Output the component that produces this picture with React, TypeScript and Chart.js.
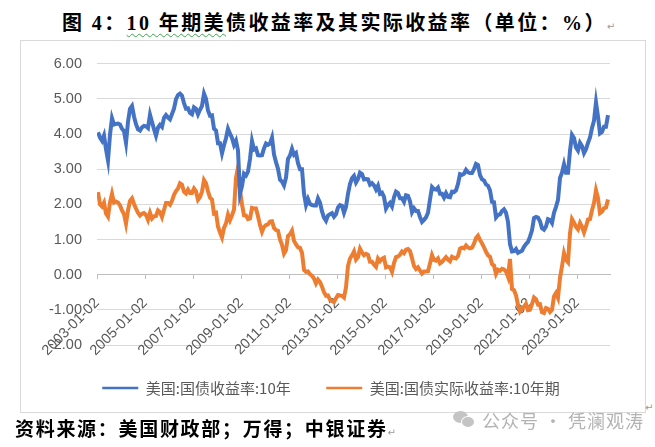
import React, { useEffect, useRef } from 'react';
import { Chart, registerables } from 'chart.js';

Chart.register(...registerables);

// Monthly readings, Jan 2003 .. Apr 2024
const START_YEAR = 2003;

const UST_10Y = [
  4.05, 3.90, 3.81, 3.96, 3.57, 3.25, 3.98, 4.45, 4.27, 4.29, 4.30, 4.27,
  4.15, 4.08, 3.75, 4.35, 4.72, 4.80, 4.50, 4.28, 4.13, 4.10, 4.19, 4.23,
  4.22, 4.17, 4.55, 4.34, 4.14, 3.95, 4.18, 4.26, 4.20, 4.46, 4.54, 4.47,
  4.42, 4.57, 4.72, 4.99, 5.11, 5.15, 5.09, 4.88, 4.72, 4.73, 4.60, 4.56,
  4.76, 4.72, 4.56, 4.69, 4.80, 5.15, 5.00, 4.67, 4.52, 4.53, 4.15, 4.10,
  3.74, 3.74, 3.45, 3.68, 3.88, 4.15, 4.01, 3.89, 3.69, 3.81, 3.53, 2.30,
  2.52, 2.87, 2.82, 2.93, 3.29, 3.80, 3.56, 3.59, 3.40, 3.39, 3.40, 3.59,
  3.73, 3.69, 3.73, 3.90, 3.42, 3.20, 3.01, 2.70, 2.65, 2.54, 2.76, 3.29,
  3.39, 3.58, 3.41, 3.46, 3.17, 3.00, 3.00, 2.30, 1.98, 2.15, 2.01, 1.98,
  1.97, 1.97, 2.17, 2.05, 1.80, 1.62, 1.53, 1.68, 1.72, 1.75, 1.65, 1.72,
  1.91, 1.98, 1.96, 1.76, 1.93, 2.30, 2.58, 2.74, 2.81, 2.62, 2.72, 2.90,
  2.86, 2.71, 2.72, 2.71, 2.56, 2.60, 2.54, 2.42, 2.53, 2.30, 2.33, 2.21,
  1.88, 1.98, 2.04, 1.94, 2.20, 2.36, 2.32, 2.17, 2.17, 2.07, 2.26, 2.24,
  2.09, 1.78, 1.89, 1.81, 1.81, 1.64, 1.50, 1.56, 1.63, 1.76, 2.14, 2.49,
  2.43, 2.42, 2.48, 2.30, 2.30, 2.19, 2.32, 2.21, 2.20, 2.36, 2.35, 2.40,
  2.58, 2.86, 2.84, 2.87, 2.98, 2.91, 2.89, 2.89, 3.00, 3.15, 3.12, 2.83,
  2.71, 2.68, 2.57, 2.53, 2.40, 2.07, 2.06, 1.63, 1.70, 1.71, 1.81, 1.86,
  1.76, 1.50, 0.87, 0.66, 0.67, 0.73, 0.62, 0.65, 0.68, 0.79, 0.87, 0.93,
  1.08, 1.26, 1.61, 1.64, 1.62, 1.52, 1.32, 1.28, 1.37, 1.58, 1.56, 1.47,
  1.76, 1.93, 2.13, 2.75, 2.90, 3.14, 2.90, 2.90, 3.52, 3.98, 3.89, 3.62,
  3.53, 3.75, 3.66, 3.46, 3.57, 3.75, 3.90, 4.17, 4.38, 4.90, 4.50, 4.02,
  4.06, 4.21, 4.21, 4.54,
];

const TIPS_10Y = [
  2.35, 2.00, 1.94, 2.05, 1.74, 1.65, 2.05, 2.30, 2.05, 2.08, 2.05, 1.97,
  1.83, 1.72, 1.45, 1.83, 2.10, 2.17, 2.01, 1.88, 1.76, 1.68, 1.73, 1.75,
  1.70, 1.56, 1.76, 1.60, 1.66, 1.67, 1.83, 1.78, 1.64, 1.84, 2.04, 2.04,
  1.99, 2.10, 2.27, 2.38, 2.45, 2.60, 2.56, 2.36, 2.31, 2.42, 2.32, 2.32,
  2.45, 2.37, 2.13, 2.21, 2.36, 2.69, 2.60, 2.37, 2.19, 2.14, 1.74, 1.76,
  1.37, 1.20, 1.06, 1.33, 1.46, 1.71, 1.55, 1.69, 1.85, 2.75, 3.05, 2.39,
  2.00, 1.69, 1.68, 1.58, 1.60, 1.90, 1.88, 1.88, 1.66, 1.41, 1.22, 1.36,
  1.41, 1.43, 1.51, 1.52, 1.33, 1.27, 1.25, 1.00, 0.85, 0.60, 0.70, 1.10,
  1.15, 1.25, 0.96, 0.86, 0.78, 0.76, 0.62, 0.14, 0.08, 0.09, 0.01, -0.03,
  -0.11, -0.25, -0.14, -0.21, -0.34, -0.50, -0.60, -0.59, -0.71, -0.75, -0.78, -0.67,
  -0.58, -0.59, -0.60, -0.65, -0.36, 0.25, 0.46, 0.55, 0.66, 0.43, 0.50, 0.74,
  0.63, 0.55, 0.59, 0.56, 0.37, 0.37, 0.28, 0.22, 0.46, 0.38, 0.45, 0.48,
  0.21, 0.23, 0.21, 0.08, 0.33, 0.50, 0.52, 0.57, 0.66, 0.61, 0.71, 0.73,
  0.67, 0.47, 0.25, 0.16, 0.21, 0.12, 0.03, 0.09, 0.09, 0.10, 0.32, 0.56,
  0.42, 0.40, 0.46, 0.32, 0.36, 0.43, 0.50, 0.43, 0.38, 0.51, 0.48, 0.46,
  0.53, 0.74, 0.77, 0.75, 0.83, 0.77, 0.75, 0.77, 0.88, 1.04, 1.11, 0.99,
  0.89, 0.78, 0.65, 0.55, 0.51, 0.30, 0.26, 0.02, 0.14, 0.11, 0.17, 0.15,
  0.09, -0.06, 0.45, -0.41, -0.44, -0.59, -0.86, -1.05, -0.97, -0.91, -0.83, -1.01,
  -1.00, -0.84, -0.65, -0.70, -0.85, -0.84, -1.07, -1.09, -0.95, -0.97, -1.06, -1.00,
  -0.62, -0.52, -0.66, -0.09, 0.24, 0.61, 0.42, 0.35, 1.18, 1.58, 1.48, 1.36,
  1.29, 1.47, 1.36, 1.20, 1.37, 1.57, 1.58, 1.83, 2.04, 2.40, 2.18, 1.75,
  1.79, 1.89, 1.91, 2.14,
];

const X_TICK_YEARS = [2003, 2005, 2007, 2009, 2011, 2013, 2015, 2017, 2019, 2021, 2023];
const X_TICK_LABELS = [
  '2003-01-02', '2005-01-02', '2007-01-02', '2009-01-02', '2011-01-02', '2013-01-02',
  '2015-01-02', '2017-01-02', '2019-01-02', '2021-01-02', '2023-01-02',
];
const Y_TICKS = [-2, -1, 0, 1, 2, 3, 4, 5, 6];
const SERIES_NAMES = ['美国:国债收益率:10年', '美国:国债实际收益率:10年期'];
const SERIES_COLORS = ['#4472C4', '#ED7D31'];

const TITLE_PRE = '图 4：';
const TITLE_MARKED = '10 年期美';
const TITLE_POST = '债收益率及其实际收益率（单位：%）';
const SOURCE_TEXT = '资料来源：美国财政部；万得；中银证券';
const WATERMARK_TEXT = '公众号 · 凭澜观涛';

const toPoints = (values: number[]) =>
  values.map((v, i) => ({ x: START_YEAR + (i + 0.5) / 12, y: v }));

const AXIS_FONT = { family: "'Liberation Sans', Arial, sans-serif", size: 14.5 };

export default function App() {
  const canvasRef = useRef<HTMLCanvasElement | null>(null);

  useEffect(() => {
    const canvas = canvasRef.current;
    if (!canvas) return;
    const chart = new Chart(canvas, {
      type: 'line',
      data: {
        datasets: [UST_10Y, TIPS_10Y].map((vals, i) => ({
          label: SERIES_NAMES[i],
          data: toPoints(vals),
          borderColor: SERIES_COLORS[i],
          backgroundColor: SERIES_COLORS[i],
          borderWidth: 4,
          pointRadius: 0,
          tension: 0,
          fill: false,
        })),
      },
      options: {
        animation: false,
        responsive: false,
        maintainAspectRatio: false,
        events: [],
        layout: { padding: { top: 19, right: 35, left: 32, bottom: 6.5 } },
        plugins: {
          tooltip: { enabled: false },
          legend: {
            position: 'bottom',
            labels: {
              boxWidth: 36,
              boxHeight: 2.5,
              padding: 35.5,
              color: '#595959',
              font: { family: "'Noto Sans CJK SC', sans-serif", size: 15 },
              generateLabels: (c: any) =>
                Chart.defaults.plugins.legend.labels
                  .generateLabels(c)
                  .map((l: any) => ({ ...l, lineWidth: 0, fillStyle: l.strokeStyle })),
            },
          },
        },
        scales: {
          x: {
            type: 'linear',
            position: { y: 0 },
            min: 2003,
            max: 2024.375,
            afterBuildTicks: (s: any) => {
              s.ticks = X_TICK_YEARS.map((v) => ({ value: v }));
            },
            ticks: {
              autoSkip: false,
              minRotation: 45,
              maxRotation: 45,
              padding: 16,
              color: '#595959',
              font: AXIS_FONT,
              callback: (v: any) => {
                const idx = X_TICK_YEARS.indexOf(Number(v));
                return idx >= 0 ? X_TICK_LABELS[idx] : '';
              },
            },
            grid: { drawOnChartArea: false, drawTicks: true, tickLength: 4, color: '#bfbfbf' },
            border: { display: true, color: '#bfbfbf', width: 1 },
          },
          y: {
            type: 'linear',
            min: -2,
            max: 6,
            afterBuildTicks: (s: any) => {
              s.ticks = Y_TICKS.map((v) => ({ value: v }));
            },
            afterFit: (s: any) => {
              s.width = 45;
              s._computeLabelArea = () => undefined;
            },
            ticks: {
              padding: 15,
              color: '#595959',
              font: AXIS_FONT,
              callback: (v: any) => Number(v).toFixed(2),
            },
            grid: { color: '#d9d9d9', drawTicks: false, lineWidth: 1 },
            border: { display: false },
          },
        },
      } as any,
    });
    return () => chart.destroy();
  }, []);

  const boldCJK = "'Liberation Serif', 'Noto Sans CJK SC', serif";

  return (
    <div
      style={{
        position: 'fixed',
        left: 0,
        top: 0,
        width: 655,
        height: 447,
        background: '#ffffff',
        overflow: 'hidden',
      }}
    >
      <div
        style={{
          position: 'absolute',
          left: 62,
          top: 10,
          height: 26,
          lineHeight: '26px',
          fontFamily: boldCJK,
          fontWeight: 700,
          fontSize: 20,
          letterSpacing: 2.4,
          color: '#000',
          whiteSpace: 'nowrap',
        }}
      >
        {TITLE_PRE}
        <span
          style={{
            textDecorationLine: 'underline',
            textDecorationStyle: 'wavy',
            textDecorationColor: '#3fa34d',
            textDecorationThickness: '1px',
            textUnderlineOffset: '3px',
          }}
        >
          {TITLE_MARKED}
        </span>
        {TITLE_POST}
        <span style={{ fontSize: 10, fontWeight: 400, color: '#999', fontFamily: "'DejaVu Sans'", letterSpacing: 0 }}>↵</span>
      </div>

      <div
        style={{
          position: 'absolute',
          left: 20,
          top: 40,
          width: 626,
          height: 373,
          border: '1px solid #d9d9d9',
          boxSizing: 'border-box',
        }}
      />
      <canvas
        ref={canvasRef}
        width={625}
        height={372}
        style={{ position: 'absolute', left: 20, top: 40, width: 625, height: 372 }}
      />
      <div
        style={{
          position: 'absolute',
          left: 645,
          top: 402,
          fontSize: 10,
          color: '#999',
          fontFamily: "'DejaVu Sans'",
        }}
      >
        ↵
      </div>

      {/* watermark */}
      <div style={{ position: 'absolute', left: 453, top: 411, width: 15, height: 12, borderRadius: '50%', background: '#c4c4c4' }} />
      <div
        style={{
          position: 'absolute',
          left: 461,
          top: 416,
          width: 12,
          height: 10,
          borderRadius: '50%',
          background: '#c4c4c4',
          border: '1px solid #fff',
        }}
      />
      <div
        style={{
          position: 'absolute',
          left: 482,
          top: 408,
          height: 24,
          lineHeight: '24px',
          fontFamily: "'Noto Sans CJK SC', sans-serif",
          fontSize: 18,
          letterSpacing: 1,
          color: '#b3b3b3',
          whiteSpace: 'nowrap',
        }}
      >
        {WATERMARK_TEXT}
      </div>

      <div
        style={{
          position: 'absolute',
          left: 15,
          top: 418,
          height: 24,
          lineHeight: '24px',
          fontFamily: boldCJK,
          fontWeight: 700,
          fontSize: 19,
          letterSpacing: 1.7,
          color: '#000',
          whiteSpace: 'nowrap',
        }}
      >
        {SOURCE_TEXT}
        <span style={{ fontSize: 10, fontWeight: 400, color: '#999', fontFamily: "'DejaVu Sans'", letterSpacing: 0 }}>↵</span>
      </div>
    </div>
  );
}
